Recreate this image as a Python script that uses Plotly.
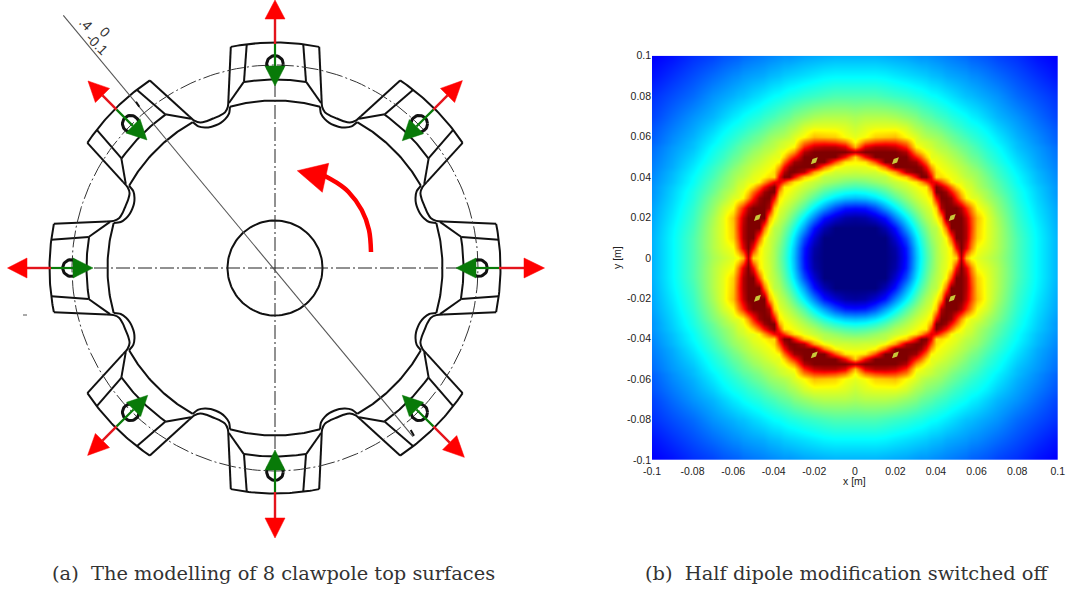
import numpy as np
import plotly.graph_objects as go

# ---------- canvas ----------
W, H = 1072, 594
HUB_X, HUB_Y = 275.0, 268.0

# ---------- right panel: field (quadrant, lower triangle, mirrored in code) ----------
field_coord = [0, .005, .01, .015, .02, .025, .03, .0325, .035, .0375, .04, .0425, .045, .0475, .05, .0525,
               .055, .0575, .06, .065, .07, .08, .09, .1]
field_rows = [
    [0],
    [0, 0],
    [0, 0, 0],
    [0, 0, 0, .05],
    [.03, .04, .08, .14, .25],
    [.14, .15, .2, .28, .36, .45],
    [.31, .32, .35, .40, .46, .52, .57],
    [.38, .39, .415, .455, .505, .55, .59, .61],
    [.44, .45, .47, .5, .545, .575, .61, .63, .64],
    [.49, .5, .52, .545, .57, .6, .65, .72, .82, .9],
    [.54, .54, .555, .56, .62, .68, .88, 1, 1, .88, .66],
    [.57, .58, .58, .62, .72, .95, 1, 1, .95, .8, .66, .63],
    [.6, .6, .63, .77, 1, 1, 1, .97, .87, .72, .63, .61, .6],
    [.63, .65, .8, 1, 1, 1, .97, .87, .77, .63, .61, .6, .585, .57],
    [.67, .87, 1, 1, 1, 1, .85, .77, .67, .6, .6, .585, .57, .555, .54],
    [.95, 1, 1, 1, 1, .95, .73, .67, .62, .6, .58, .565, .555, .54, .525, .505],
    [.7, .9, .95, .95, .93, .84, .63, .61, .59, .58, .56, .55, .54, .52, .505, .49, .475],
    [.62, .75, .8, .82, .81, .74, .6, .59, .58, .565, .55, .535, .52, .5, .485, .47, .46, .44],
    [.6, .62, .67, .68, .69, .625, .59, .565, .55, .54, .53, .52, .5, .485, .47, .455, .44, .425, .41],
    [.57, .59, .6, .6, .6, .58, .54, .53, .51, .5, .49, .475, .46, .445, .43, .42, .405, .395, .385, .36],
    [.54, .55, .55, .55, .54, .52, .5, .48, .47, .46, .445, .435, .425, .41, .4, .39, .38, .365, .355, .33, .305],
    [.45, .45, .45, .44, .43, .42, .405, .4, .39, .38, .375, .365, .355, .345, .335, .325, .315, .31, .3, .285, .27, .23],
    [.37, .37, .37, .365, .355, .345, .335, .33, .325, .315, .31, .305, .295, .29, .285, .28, .275, .265, .26, .245, .23, .2, .17],
    [.3, .3, .3, .295, .29, .285, .275, .27, .27, .265, .26, .255, .25, .245, .24, .235, .23, .22, .215, .205, .19, .17, .14, .12],
]
spot_x = [.02, .048, .048, .02, -.02, -.048, -.048, -.02]
spot_y = [.048, .02, -.02, -.048, -.048, -.02, .02, .048]
tick_vals = [-.1, -.08, -.06, -.04, -.02, 0, .02, .04, .06, .08, .1]
tick_text = ["-0.1", "-0.08", "-0.06", "-0.04", "-0.02", "0", "0.02", "0.04", "0.06", "0.08", "0.1"]
jet = [[0, "#00007f"], [.125, "#0000ff"], [.375, "#00ffff"], [.625, "#ffff00"], [.875, "#ff0000"], [1, "#7f0000"]]

# ---------- left panel: clawpole drawing, polar values (radius in drawing units, offset angle in degrees) ----------
claw_axes = [0, 45, 90, 135, 180, 225, 270, 315]
notch_axes = [22.5, 67.5, 112.5, 157.5, 202.5, 247.5, 292.5, 337.5]
r_outer, phi_outer = 225.5, 11.3
r_mid, phi_mid = 188.5, 9.45
r_root, phi_root = 167.5, 15.6
r_pitch = 203.0
r_hub = 47.5
side_line = [(225.5, 11.3), (174.4, 15.5)]
web_line = [(225.5, 7.2), (188.9, 9.45)]
edge_line = [(188.9, 9.45), (171.3, 15.6)]
notch_upper = [(174.4, 15.5), (168, 16.3), (163.5, 17.8), (162, 20), (161.8, 22.5)]
notch_lower = [(167.5, 15.6), (161, 16.6), (157, 18.5), (155, 20.5), (154.5, 22.5)]

red_tip = [269.5, 265, 268, 264.5, 267.5, 265, 270, 267.8]
red_base = [249, 244, 249, 244, 248, 244, 250, 247]
red_end = 224
green_tip = [181, 180, 182, 181, 182, 180, 182, 180]
green_base = [201, 200, 202, 201, 202, 200, 202, 200]
hole_r = 204.0

diag_line_x = [63.3, 413]
diag_line_y = [15.3, 436.7]
diag_ticks = [[(136, 101.7), (139.3, 106.7)], [(410.7, 430), (414, 435.7)]]
rotor_arrow_x = [371, 369, 361.7, 348.3, 336.7, 322]
rotor_arrow_y = [252, 230, 210, 191.7, 182.7, 174.5]
rotor_head_x = [297.3, 328.7, 322.3]
rotor_head_y = [170.7, 163.3, 192.3]
stray_x = [23, 27]
stray_y = [315, 315]


def P(r, a):
    t = np.radians(a)
    return r * np.cos(t), r * np.sin(t)


def px(x, y):
    return x - HUB_X, HUB_Y - y


def arc(r, a0, a1, n=40):
    t = np.linspace(a0, a1, n)
    return list(r * np.cos(np.radians(t))), list(r * np.sin(np.radians(t)))


fig = go.Figure()
black = "#111111"
LW = 2.0
lx, ly = [], []


def add(xs, ys):
    lx.extend(list(xs) + [None])
    ly.extend(list(ys) + [None])


for a in claw_axes:
    add(*arc(r_outer, a - phi_outer, a + phi_outer))
    add(*arc(r_mid, a - phi_mid, a + phi_mid))
    add(*arc(r_root, a - phi_root, a + phi_root))
    for s in (-1, 1):
        for seg in (side_line, web_line, edge_line):
            pts = [P(r, a + s * p) for r, p in seg]
            add([q[0] for q in pts], [q[1] for q in pts])
add(*arc(r_hub, 0, 360, 120))
fig.add_trace(go.Scatter(x=lx, y=ly, mode="lines", line=dict(color=black, width=LW), xaxis="x", yaxis="y", hoverinfo="skip"))

nx, ny = [], []
for a in notch_axes:
    for curve in (notch_upper, notch_lower):
        left = [P(r, a - 22.5 + p) for r, p in curve]
        right = [P(r, a + 22.5 - p) for r, p in reversed(curve[:-1])]
        pts = left + right
        nx.extend([q[0] for q in pts] + [None])
        ny.extend([q[1] for q in pts] + [None])
fig.add_trace(go.Scatter(x=nx, y=ny, mode="lines", connectgaps=False, line=dict(color=black, width=LW, shape="spline", smoothing=0.8), xaxis="x", yaxis="y", hoverinfo="skip"))

# centre lines and pitch circle
cx, cy = arc(r_pitch, 0, 360, 240)
fig.add_trace(go.Scatter(x=cx, y=cy, mode="lines", line=dict(color="#333333", width=1, dash="17px,3px,2px,3px"), xaxis="x", yaxis="y", hoverinfo="skip"))
fig.add_trace(go.Scatter(x=[-r_pitch, r_pitch, None, 0, 0], y=[0, 0, None, -r_pitch, r_pitch], mode="lines", line=dict(color="#222222", width=1, dash="14px,3px,2px,3px"), xaxis="x", yaxis="y", hoverinfo="skip"))

# diagonal section line
dx, dy = zip(*[px(a, b) for a, b in zip(diag_line_x, diag_line_y)])
fig.add_trace(go.Scatter(x=dx, y=dy, mode="lines", line=dict(color="#555555", width=1.1), xaxis="x", yaxis="y", hoverinfo="skip"))
tx, ty = [], []
for seg in diag_ticks:
    for p in seg:
        q = px(*p)
        tx.append(q[0]); ty.append(q[1])
    tx.append(None); ty.append(None)
q0, q1 = px(stray_x[0], stray_y[0]), px(stray_x[1], stray_y[1])
fig.add_trace(go.Scatter(x=tx, y=ty, mode="lines", line=dict(color=black, width=2), xaxis="x", yaxis="y", hoverinfo="skip"))
fig.add_trace(go.Scatter(x=[q0[0], q1[0]], y=[q0[1], q1[1]], mode="lines", line=dict(color="#555555", width=1), xaxis="x", yaxis="y", hoverinfo="skip"))

# holes
hx, hy = [], []
for a in claw_axes:
    x0, y0 = P(hole_r, a)
    xs, ys = arc(8.3, 0, 360, 40)
    hx.extend([x0 + v for v in xs] + [None])
    hy.extend([y0 + v for v in ys] + [None])
fig.add_trace(go.Scatter(x=hx, y=hy, mode="lines", line=dict(color=black, width=3), xaxis="x", yaxis="y", hoverinfo="skip"))


def head(a, tip, base, w=10):
    t = np.radians(a)
    ux, uy = np.cos(t), np.sin(t)
    vx, vy = -uy, ux
    return ([tip * ux, base * ux + w * vx, base * ux - w * vx, tip * ux],
            [tip * uy, base * uy + w * vy, base * uy - w * vy, tip * uy])


for i, a in enumerate(claw_axes):
    a0 = P(red_base[i], a); a1 = P(red_end, a)
    fig.add_trace(go.Scatter(x=[a0[0], a1[0]], y=[a0[1], a1[1]], mode="lines", line=dict(color="#e4141c", width=2.4), xaxis="x", yaxis="y", hoverinfo="skip"))
    g0 = P(red_end, a); g1 = P(green_base[i], a)
    fig.add_trace(go.Scatter(x=[g0[0], g1[0]], y=[g0[1], g1[1]], mode="lines", line=dict(color="#087a08", width=2.2), xaxis="x", yaxis="y", hoverinfo="skip"))
    hxs, hys = head(a, red_tip[i], red_base[i])
    fig.add_trace(go.Scatter(x=hxs, y=hys, mode="lines", fill="toself", fillcolor="#ff0000", line=dict(color="#ff0000", width=0.5), xaxis="x", yaxis="y", hoverinfo="skip"))
    hxs, hys = head(a, green_tip[i], green_base[i])
    fig.add_trace(go.Scatter(x=hxs, y=hys, mode="lines", fill="toself", fillcolor="#087a08", line=dict(color="#087a08", width=0.5), xaxis="x", yaxis="y", hoverinfo="skip"))

# rotation arrow
rx, ry = zip(*[px(a, b) for a, b in zip(rotor_arrow_x, rotor_arrow_y)])
fig.add_trace(go.Scatter(x=rx, y=ry, mode="lines", line=dict(color="#ff0000", width=4.5, shape="spline"), xaxis="x", yaxis="y", hoverinfo="skip"))
hx2, hy2 = zip(*[px(a, b) for a, b in zip(rotor_head_x + rotor_head_x[:1], rotor_head_y + rotor_head_y[:1])])
fig.add_trace(go.Scatter(x=hx2, y=hy2, mode="lines", fill="toself", fillcolor="#ff0000", line=dict(color="#ff0000", width=0.5), xaxis="x", yaxis="y", hoverinfo="skip"))

# ---------- heat map ----------
c = np.array(field_coord)
n = len(c)
q = np.zeros((n, n))
for i, row in enumerate(field_rows):
    for j, v in enumerate(row):
        q[i, j] = v
        q[j, i] = v
full = np.concatenate([q[:0:-1, :], q], axis=0)
full = np.concatenate([full[:, :0:-1], full], axis=1)
axis_vals = np.concatenate([-c[:0:-1], c])
fig.add_trace(go.Heatmap(x=axis_vals, y=axis_vals, z=full, zmin=0, zmax=1, zsmooth="best", colorscale=jet, showscale=False, xaxis="x2", yaxis="y2", hoverinfo="skip"))
fig.add_trace(go.Scatter(x=spot_x, y=spot_y, mode="markers", marker=dict(symbol="diamond-tall", size=7, angle=45, color="#c9c83a"), xaxis="x2", yaxis="y2", hoverinfo="skip"))

# ---------- text ----------
tick_font = dict(family="Liberation Sans", size=10.5, color="#222222")
cap_font = dict(family="DejaVu Serif", size=19.4, color="#333333")


def note(text, x, y, font, angle=0):
    fig.add_annotation(text=text, x=x / W, y=1 - y / H, xref="paper", yref="paper", showarrow=False, font=font, textangle=angle, xanchor="center", yanchor="middle")


note("(a)  The modelling of 8 clawpole top surfaces", 273.5, 573, cap_font)
note("(b)  Half dipole modification switched off", 846, 573, cap_font)
note("x [m]", 854, 481, tick_font)
note("y [m]", 617, 258, tick_font, -90)
dim_font = dict(family="Liberation Sans", size=14, color="#333333")
note(".4", 86, 24, dim_font, 45)
note("0", 105, 32, dim_font, 45)
note("-0.1", 97, 44, dim_font, 45)

fig.update_layout(
    template="none",
    width=W, height=H, autosize=False, margin=dict(l=0, r=0, t=0, b=0, pad=0, autoexpand=False),
    paper_bgcolor="white", plot_bgcolor="white", showlegend=False,
    xaxis=dict(domain=[0, 1], range=[-HUB_X, W - HUB_X], visible=False, fixedrange=True, automargin=False),
    yaxis=dict(domain=[0, 1], range=[HUB_Y - H, HUB_Y], visible=False, fixedrange=True, automargin=False),
    xaxis2=dict(domain=[652 / W, 1057.7 / W], range=[-.1, .1], anchor="y2", tickvals=tick_vals, ticktext=tick_text, automargin=False,
                ticks="", showgrid=False, zeroline=False, tickfont=tick_font, showline=False, ticklabelstandoff=3),
    yaxis2=dict(domain=[1 - 460 / H, 1 - 55.7 / H], range=[-.1, .1], anchor="x2", tickvals=tick_vals, ticktext=tick_text, automargin=False,
                ticks="", showgrid=False, zeroline=False, tickfont=tick_font, showline=False),
)
fig.write_html("out.html", post_script="document.body.style.margin='0';", config={"displayModeBar": False})
